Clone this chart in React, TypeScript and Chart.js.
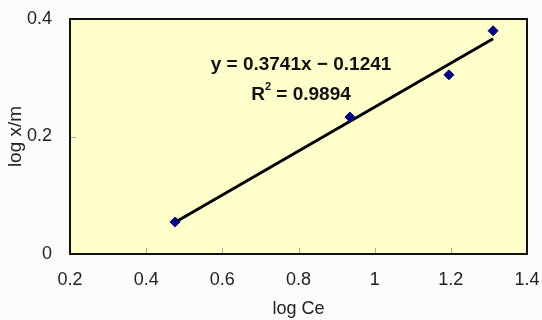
import React, { useEffect, useRef } from "react";
import { Chart, registerables } from "chart.js";

Chart.register(...registerables);

const pointsX = [0.476, 0.935, 1.195, 1.311];
const pointsY = [0.0545, 0.233, 0.305, 0.38];
const slope = 0.3741;
const intercept = -0.1241;
const eqText = "y = 0.3741x − 0.1241";
const r2Text = "0.9894";
const xTitle = "log Ce";
const yTitle = "log x/m";

const FONT = "'Liberation Sans', Arial, sans-serif";

export default function App() {
  const ref = useRef<HTMLCanvasElement | null>(null);
  useEffect(() => {
    document.body.style.margin = "0";
    const scatter = pointsX.map((x, i) => ({ x, y: pointsY[i] }));
    const x0 = pointsX[0];
    const x1 = pointsX[pointsX.length - 1];
    const trend = [
      { x: x0, y: slope * x0 + intercept },
      { x: x1, y: slope * x1 + intercept },
    ];
    const areaPlugin = {
      id: "area",
      beforeDraw(chart: any) {
        const { ctx, chartArea: a } = chart;
        ctx.save();
        ctx.fillStyle = "#fcfcfc";
        ctx.fillRect(0, 0, chart.width, chart.height);
        ctx.fillStyle = "#ffffcc";
        ctx.fillRect(a.left, a.top, a.right - a.left, a.bottom - a.top);
        ctx.restore();
      },
      afterDraw(chart: any) {
        const { ctx, chartArea: a, scales } = chart;
        ctx.save();
        ctx.strokeStyle = "#aaaaaa";
        ctx.lineWidth = 1;
        [0.4, 0.6, 0.8, 1.0, 1.2].forEach((v) => {
          const px = Math.round(scales.x.getPixelForValue(v)) + 0.5;
          ctx.beginPath();
          ctx.moveTo(px, a.bottom);
          ctx.lineTo(px, a.bottom - 6);
          ctx.stroke();
        });
        [0.2].forEach((v) => {
          const py = Math.round(scales.y.getPixelForValue(v)) + 0.5;
          ctx.beginPath();
          ctx.moveTo(a.left, py);
          ctx.lineTo(a.left + 6, py);
          ctx.stroke();
        });
        ctx.strokeStyle = "#111111";
        ctx.lineWidth = 2;
        ctx.strokeRect(a.left, a.top, a.right - a.left, a.bottom - a.top);
        // annotation
        const cx = 301;
        ctx.fillStyle = "#111111";
        ctx.font = `bold 19px ${FONT}`;
        ctx.textAlign = "center";
        ctx.textBaseline = "middle";
        ctx.fillText(eqText, cx, 65);
        const rBase = "R";
        const rest = " = " + r2Text;
        const wR = ctx.measureText(rBase).width;
        const wRest = ctx.measureText(rest).width;
        ctx.font = `bold 11px ${FONT}`;
        const wSup = ctx.measureText("2").width;
        const total = wR + wSup + wRest;
        let sx = cx - total / 2;
        ctx.textAlign = "left";
        ctx.font = `bold 19px ${FONT}`;
        ctx.fillText(rBase, sx, 95);
        sx += wR;
        ctx.font = `bold 11px ${FONT}`;
        ctx.fillText("2", sx, 87);
        sx += wSup;
        ctx.font = `bold 19px ${FONT}`;
        ctx.fillText(rest, sx, 95);
        ctx.restore();
      },
    };
    const chart = new Chart(ref.current!, {
      type: "scatter",
      data: {
        datasets: [
          {
            type: "line",
            data: trend,
            borderColor: "#000000",
            borderWidth: 3,
            pointRadius: 0,
            showLine: true,
            order: 2,
          } as any,
          {
            data: scatter,
            backgroundColor: "#000080",
            borderColor: "#000080",
            pointStyle: "rectRot",
            pointRadius: 5,
            order: 1,
          },
        ],
      },
      options: {
        animation: false,
        responsive: false,
        devicePixelRatio: 1,
        layout: { padding: { left: 0, top: 19, right: 15, bottom: 0 } },
        plugins: { legend: { display: false }, tooltip: { enabled: false } },
        scales: {
          x: {
            type: "linear",
            min: 0.2,
            max: 1.4,
            border: { display: false },
            grid: { display: false },
            ticks: {
              stepSize: 0.2,
              padding: 7,
              color: "#222222",
              font: { family: FONT, size: 18 },
              callback: (v: any) => String(Math.round(Number(v) * 10) / 10),
            },
            title: {
              display: true,
              text: xTitle,
              color: "#222222",
              font: { family: FONT, size: 18 },
              padding: { top: 6, bottom: 0 },
            },
            afterFit: (s: any) => {
              s.height = 66;
              s.paddingLeft = 0;
              s.paddingRight = 0;
            },
          },
          y: {
            type: "linear",
            min: 0,
            max: 0.4,
            border: { display: false },
            grid: { display: false },
            ticks: {
              stepSize: 0.2,
              padding: 10,
              color: "#222222",
              font: { family: FONT, size: 18 },
              callback: (v: any) => String(Math.round(Number(v) * 10) / 10),
            },
            title: {
              display: true,
              text: yTitle,
              color: "#222222",
              font: { family: FONT, size: 19 },
              padding: { top: 4, bottom: 4 },
            },
            afterFit: (s: any) => {
              s.width = 70;
              s.paddingTop = 0;
              s.paddingBottom = 0;
            },
          },
        },
      },
      plugins: [areaPlugin],
    });
    return () => chart.destroy();
  }, []);
  return <canvas ref={ref} width={542} height={320} style={{ display: "block" }} />;
}
